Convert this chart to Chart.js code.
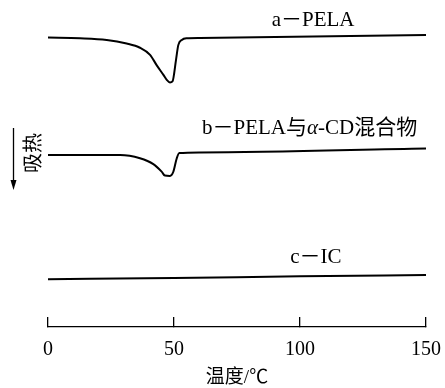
<!DOCTYPE html>
<html>
<head>
<meta charset="utf-8">
<script src="https://cdn.jsdelivr.net/npm/chart.js@4/dist/chart.umd.min.js"></script>
<style>
  html, body { margin: 0; padding: 0; background: #fff; }
  #wrap { width: 445px; height: 388px; }
</style>
</head>
<body>
<div id="wrap"><canvas id="dsc" width="445" height="388"></canvas></div>
<script>
// temperature / heat-flow readings (arbitrary units)
var tempA = [0, 12.7, 23.3, 31.2, 36.5, 40.5, 43.1, 45.8, 47.2, 48.4, 49.4, 50.8, 51.7, 53.1, 55.0, 60.3, 150];
var flowA = [88.5, 88.3, 87.8, 86.7, 85.4, 83.2, 80.1, 77.1, 75.5, 74.8, 75.1, 81.7, 86.2, 87.8, 88.3, 88.4, 89.3];

var tempB = [0, 28.6, 36.5, 41.8, 45.1, 46.4, 48.4, 49.7, 51.1, 52.1, 60.3, 150];
var flowB = [52.6, 52.6, 51.6, 49.8, 47.5, 46.3, 46.2, 47.4, 51.6, 53.2, 53.4, 54.6];

var tempC = [0, 50, 100, 150];
var flowC = [14.6, 15.0, 15.5, 15.9];

var xTicks = [0, 50, 100, 150];
var curveNames = ['a－PELA', 'b－PELA与α-CD混合物', 'c－IC'];

var serif = '"Liberation Serif", "Noto Sans CJK SC", serif';

function pts(xs, ys) {
  var out = [];
  for (var i = 0; i < xs.length; i++) out.push({x: xs[i], y: ys[i]});
  return out;
}

var lineStyle = {
  borderColor: '#000',
  borderWidth: 2,
  pointRadius: 0,
  tension: 0.35,
  cubicInterpolationMode: 'monotone',
  fill: false
};

// curve captions, y-axis caption and the heat arrow
var annotate = {
  id: 'annotate',
  afterDatasetsDraw: function(chart) {
    var ctx = chart.ctx;
    var sx = chart.scales.x, sy = chart.scales.y;
    ctx.save();
    ctx.fillStyle = '#000';
    ctx.textBaseline = 'middle';
    ctx.textAlign = 'left';

    var labels = [
      {parts: [[curveNames[0], '']], x: 105.2, y: 93.7},
      {parts: [['b－PELA与', ''], ['α', 'italic '], ['-CD混合物', '']], x: 103.8, y: 60.8},
      {parts: [[curveNames[2], '']], x: 106.3, y: 21.4}
    ];
    labels.forEach(function(l) {
      var w = 0;
      l.parts.forEach(function(p) { ctx.font = p[1] + '21px ' + serif; w += ctx.measureText(p[0]).width; });
      var px = sx.getPixelForValue(l.x) - w / 2;
      var py = sy.getPixelForValue(l.y);
      l.parts.forEach(function(p) {
        ctx.font = p[1] + '21px ' + serif;
        ctx.fillText(p[0], px, py);
        px += ctx.measureText(p[0]).width;
      });
    });

    // y caption
    ctx.save();
    ctx.translate(31.5, 153);
    ctx.rotate(-Math.PI / 2);
    ctx.textAlign = 'center';
    ctx.font = '20px "Noto Sans CJK SC", sans-serif';
    ctx.fillText('吸热', 0, 1);
    ctx.restore();

    // downward arrow
    ctx.strokeStyle = '#000';
    ctx.lineWidth = 1.3;
    ctx.beginPath();
    ctx.moveTo(13.5, 128);
    ctx.lineTo(13.5, 183);
    ctx.stroke();
    ctx.beginPath();
    ctx.moveTo(10.5, 180);
    ctx.lineTo(16.5, 180);
    ctx.lineTo(13.5, 190);
    ctx.closePath();
    ctx.fill();
    ctx.restore();
  }
};

new Chart(document.getElementById('dsc'), {
  type: 'line',
  data: {
    datasets: [
      Object.assign({label: curveNames[0], data: pts(tempA, flowA)}, lineStyle),
      Object.assign({label: curveNames[1], data: pts(tempB, flowB)}, lineStyle),
      Object.assign({label: curveNames[2], data: pts(tempC, flowC)}, lineStyle)
    ]
  },
  options: {
    responsive: false,
    animation: false,
    devicePixelRatio: 1,
    layout: {padding: {left: 48, right: 19, top: 0, bottom: 0}},
    plugins: {legend: {display: false}, tooltip: {enabled: false}},
    scales: {
      x: {
        type: 'linear',
        min: 0,
        max: 150,
        afterBuildTicks: function(scale) {
          scale.ticks = xTicks.map(function(v) { return {value: v}; });
        },
        grid: {display: true, drawOnChartArea: false, drawTicks: true, tickLength: -10, color: '#000', lineWidth: 1.3},
        border: {display: true, color: '#000', width: 1.3},
        // tall line box instead of padding, so the last label does not squeeze the plot
        ticks: {color: '#000', padding: 0, maxRotation: 0, font: {family: serif, size: 20, lineHeight: '66px'}},
        title: {display: true, text: '温度/℃', color: '#000', padding: {top: -14, bottom: 0},
                font: {family: serif, size: 19, lineHeight: 1}}
      },
      y: {
        type: 'linear',
        display: false,
        min: 0,
        max: 100
      }
    }
  },
  plugins: [annotate]
});
</script>
</body>
</html>
